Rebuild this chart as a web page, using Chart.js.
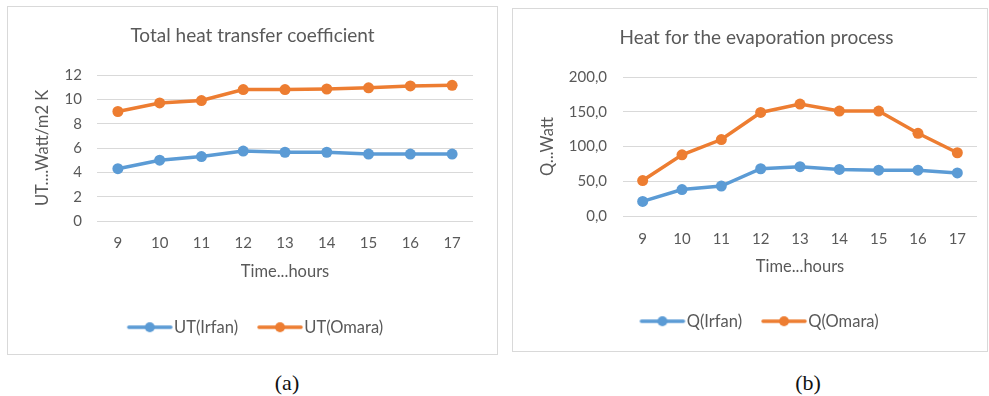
<!DOCTYPE html>
<html><head><meta charset="utf-8">
<script src="https://cdn.jsdelivr.net/npm/chart.js@4/dist/chart.umd.min.js"></script>
<style>
html,body{margin:0;padding:0;background:#fff;width:989px;height:396px;overflow:hidden}
.panel{position:absolute;border:1px solid #d9d9d9;background:#fff;box-sizing:border-box}
#pa{left:7px;top:6px;width:491px;height:349px}
#pb{left:512px;top:8px;width:476px;height:344px}
.panel canvas{display:block}
.cap{position:absolute;font-family:"Liberation Serif","Times New Roman",serif;font-size:22px;line-height:1;color:#111;transform:translateX(-50%)}
</style></head><body>
<div class="panel" id="pa"><canvas id="ca" width="489" height="347"></canvas></div>
<div class="panel" id="pb"><canvas id="cb" width="474" height="342"></canvas></div>
<div class="cap" style="left:287px;top:372px">(a)</div>
<div class="cap" style="left:808px;top:372px">(b)</div>
<script>
// Hours of the day (shared by both panels)
const hours = ['9', '10', '11', '12', '13', '14', '15', '16', '17'];

// (a) Total heat transfer coefficient, W/m2 K
const utIrfan = [4.3, 5.0, 5.3, 5.75, 5.65, 5.65, 5.5, 5.5, 5.5];
const utOmara = [9.0, 9.7, 9.9, 10.8, 10.8, 10.85, 10.95, 11.1, 11.15];

// (b) Heat for the evaporation process, W
const qIrfan = [21, 38, 43, 68, 71, 67, 66, 66, 62];
const qOmara = [51, 88, 110, 149, 161, 151, 151, 119, 91];

const BLUE = '#5b9bd5';
const ORANGE = '#ed7d31';
const GREY = '#595959';
const FONT = 'Lato, "Open Sans", sans-serif';

Chart.defaults.font.family = FONT;
Chart.defaults.color = GREY;

// legend symbol: short line with a round marker in the middle,
// shifted right so it ends just before the label text
function legendSymbol(color) {
  const c = document.createElement('canvas');
  c.width = 68; c.height = 12;
  const g = c.getContext('2d');
  g.strokeStyle = color; g.lineWidth = 3.5; g.lineCap = 'round';
  g.beginPath(); g.moveTo(19, 6); g.lineTo(61, 6); g.stroke();
  g.fillStyle = color;
  g.beginPath(); g.arc(40, 6, 5, 0, Math.PI * 2); g.fill();
  return c;
}
const symbols = [legendSymbol(BLUE), legendSymbol(ORANGE)];

function series(label, data, color) {
  return {
    label, data,
    borderColor: color, backgroundColor: color,
    pointBackgroundColor: color, pointBorderColor: color,
    borderWidth: 3.5, pointRadius: 5.5, pointBorderWidth: 0,
    pointHoverRadius: 5.5, tension: 0, fill: false
  };
}

function makeChart(id, opt) {
  return new Chart(document.getElementById(id), {
    type: 'line',
    data: { labels: hours, datasets: opt.datasets },
    options: {
      responsive: false,
      animation: false,
      events: [],
      layout: { padding: { left: opt.left, right: opt.right, top: 0, bottom: opt.bottom } },
      plugins: {
        title: {
          display: true, text: opt.title, color: GREY,
          font: { size: 19, weight: 'normal' },
          padding: { top: 17.6, bottom: 27.6 }
        },
        legend: {
          position: 'bottom',
          labels: {
            usePointStyle: true, pointStyleWidth: 44, padding: 14,
            color: GREY, font: { size: 16.5 },
            generateLabels(chart) {
              const items = Chart.defaults.plugins.legend.labels.generateLabels(chart);
              items.forEach((it, i) => { it.pointStyle = symbols[i]; });
              return items;
            }
          }
        },
        tooltip: { enabled: false }
      },
      scales: {
        x: {
          offset: true,
          grid: { display: false, drawTicks: false },
          border: { display: false },
          ticks: { padding: opt.xTickPad, font: { size: 15 }, color: GREY },
          title: { display: true, text: 'Time...hours', color: GREY, font: { size: 16.5 }, padding: { top: 0, bottom: opt.xTitleBottom } },
          afterFit(s) { s.height = opt.xHeight; }
        },
        y: {
          min: opt.min, max: opt.max,
          grid: { color: '#d9d9d9', lineWidth: 1, drawTicks: false },
          border: { display: false },
          ticks: { stepSize: opt.step, padding: opt.tickPad, font: { size: 15 }, color: GREY, callback: opt.fmt },
          title: { display: true, text: opt.yTitle, color: GREY, font: { size: 16.5 }, padding: { top: opt.yTitleTop, bottom: 0 } },
          afterFit(s) { s.width = opt.yWidth; }
        }
      }
    }
  });
}

makeChart('ca', {
  title: 'Total heat transfer coefficient',
  yTitle: 'UT....Watt/m2 K',
  datasets: [series('UT(Irfan)', utIrfan, BLUE), series('UT(Omara)', utOmara, ORANGE)],
  min: 0, max: 12, step: 2,
  fmt: v => String(v),
  left: 24, right: 24, bottom: 8.5,
  xHeight: 84, xTickPad: 13, xTitleBottom: 23,
  yWidth: 65, tickPad: 15, yTitleTop: 1
});

makeChart('cb', {
  title: 'Heat for the evaporation process',
  yTitle: 'Q...Watt',
  datasets: [series('Q(Irfan)', qIrfan, BLUE), series('Q(Omara)', qOmara, ORANGE)],
  min: 0, max: 200, step: 50,
  fmt: v => v.toFixed(1).replace('.', ','),
  left: 23, right: 10, bottom: 11.5,
  xHeight: 83, xTickPad: 14, xTitleBottom: 22,
  yWidth: 87, tickPad: 16, yTitleTop: 2
});
</script>
</body></html>
